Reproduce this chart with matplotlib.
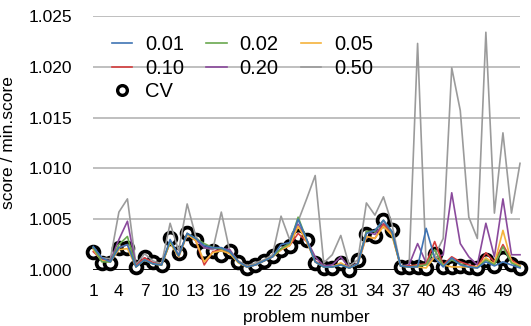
import numpy as np
import matplotlib
matplotlib.use('Agg')
import matplotlib.pyplot as plt

plt.rcParams['font.family'] = ['Liberation Sans', 'DejaVu Sans']

problems = np.arange(1, 52)

s001 = [1.0023, 1.0012, 1.0008, 1.0022, 1.0025, 1.0003, 1.0010, 1.0006, 1.0005, 1.0030,
        1.0014, 1.0036, 1.0031, 1.0024, 1.0022, 1.0022, 1.0018, 1.0008, 1.0003, 1.0005,
        1.0009, 1.0013, 1.0025, 1.0027, 1.0050, 1.0030, 1.0008, 1.0003, 1.0003, 1.0005,
        1.0002, 1.0006, 1.0036, 1.0039, 1.0049, 1.0038, 1.0004, 1.0003, 1.0003, 1.0041,
        1.0012, 1.0003, 1.0012, 1.0005, 1.0003, 1.0002, 1.0008, 1.0004, 1.0008, 1.0005,
        1.0002]
s002 = [1.0022, 1.0008, 1.0008, 1.0025, 1.0033, 1.0003, 1.0010, 1.0006, 1.0005, 1.0028,
        1.0014, 1.0036, 1.0031, 1.0026, 1.0022, 1.0021, 1.0018, 1.0008, 1.0003, 1.0005,
        1.0009, 1.0013, 1.0021, 1.0026, 1.0052, 1.0030, 1.0008, 1.0003, 1.0003, 1.0005,
        1.0002, 1.0006, 1.0038, 1.0038, 1.0049, 1.0037, 1.0004, 1.0003, 1.0004, 1.0005,
        1.0020, 1.0004, 1.0010, 1.0006, 1.0003, 1.0002, 1.0010, 1.0005, 1.0023, 1.0007,
        1.0003]
s005 = [1.0020, 1.0009, 1.0008, 1.0020, 1.0021, 1.0003, 1.0010, 1.0006, 1.0005, 1.0027,
        1.0013, 1.0035, 1.0029, 1.0008, 1.0017, 1.0019, 1.0016, 1.0007, 1.0003, 1.0005,
        1.0009, 1.0013, 1.0020, 1.0024, 1.0043, 1.0028, 1.0008, 1.0003, 1.0003, 1.0007,
        1.0002, 1.0006, 1.0033, 1.0031, 1.0043, 1.0034, 1.0004, 1.0003, 1.0003, 1.0002,
        1.0013, 1.0005, 1.0003, 1.0003, 1.0003, 1.0003, 1.0012, 1.0006, 1.0039, 1.0008,
        1.0004]
s010 = [1.0018, 1.0010, 1.0008, 1.0022, 1.0025, 1.0004, 1.0012, 1.0007, 1.0005, 1.0027,
        1.0013, 1.0035, 1.0029, 1.0005, 1.0018, 1.0020, 1.0017, 1.0008, 1.0003, 1.0005,
        1.0009, 1.0013, 1.0020, 1.0024, 1.0036, 1.0028, 1.0009, 1.0003, 1.0003, 1.0006,
        1.0002, 1.0006, 1.0033, 1.0031, 1.0045, 1.0035, 1.0004, 1.0004, 1.0005, 1.0006,
        1.0028, 1.0005, 1.0013, 1.0008, 1.0005, 1.0003, 1.0017, 1.0008, 1.0025, 1.0010,
        1.0004]
s020 = [1.0021, 1.0010, 1.0009, 1.0030, 1.0048, 1.0004, 1.0012, 1.0007, 1.0005, 1.0028,
        1.0015, 1.0036, 1.0030, 1.0022, 1.0021, 1.0021, 1.0020, 1.0008, 1.0003, 1.0005,
        1.0009, 1.0013, 1.0021, 1.0026, 1.0045, 1.0030, 1.0013, 1.0004, 1.0005, 1.0013,
        1.0002, 1.0007, 1.0038, 1.0035, 1.0046, 1.0037, 1.0004, 1.0005, 1.0026, 1.0007,
        1.0012, 1.0015, 1.0076, 1.0026, 1.0013, 1.0005, 1.0046, 1.0013, 1.0070, 1.0015,
        1.0015]
s050 = [1.0022, 1.0012, 1.0011, 1.0057, 1.0070, 1.0005, 1.0016, 1.0009, 1.0006, 1.0046,
        1.0019, 1.0065, 1.0033, 1.0022, 1.0020, 1.0057, 1.0018, 1.0009, 1.0004, 1.0007,
        1.0010, 1.0015, 1.0053, 1.0030, 1.0048, 1.0070, 1.0093, 1.0007, 1.0015, 1.0034,
        1.0004, 1.0010, 1.0066, 1.0054, 1.0072, 1.0045, 1.0004, 1.0003, 1.0223, 1.0005,
        1.0014, 1.0031, 1.0199, 1.0157, 1.0052, 1.0031, 1.0234, 1.0056, 1.0135, 1.0056,
        1.0105]
cv = [1.0018, 1.0007, 1.0007, 1.0022, 1.0022, 1.0003, 1.0013, 1.0008, 1.0005, 1.0031,
      1.0017, 1.0036, 1.0030, 1.0018, 1.0019, 1.0015, 1.0019, 1.0008, 1.0002, 1.0005,
      1.0009, 1.0014, 1.0020, 1.0024, 1.0033, 1.0030, 1.0007, 1.0002, 1.0002, 1.0007,
      1.0000, 1.0010, 1.0035, 1.0033, 1.0049, 1.0039, 1.0003, 1.0003, 1.0003, 1.0002,
      1.0016, 1.0003, 1.0003, 1.0004, 1.0003, 1.0002, 1.0010, 1.0004, 1.0012, 1.0006,
      1.0002]

labels = ['0.01', '0.02', '0.05', '0.10', '0.20', '0.50']
colors = ['#3f74b4', '#6aa84f', '#f5b33c', '#d63e3e', '#8a4a9c', '#9b9b9b']
series = [s001, s002, s005, s010, s020, s050]

fig = plt.figure(figsize=(5.31, 3.26), dpi=100)
ax = fig.add_axes([0.1757, 0.1718, 0.8036, 0.7791])

for y in [1.005, 1.010, 1.015, 1.020, 1.025]:
    ax.axhline(y, color='#b4b4b4', lw=1.2, zorder=0)
ax.axhline(1.0, color='black', lw=1.3, zorder=1)

cv_handle, = ax.plot(problems, cv, 'o', ms=8.5, mfc='white', mec='black', mew=2.7,
                     clip_on=False, zorder=2, label='CV')

handles = {}
for i in range(5, -1, -1):
    h, = ax.plot(problems, series[i], color=colors[i], lw=1.2, zorder=3,
                 label=labels[i], clip_on=False)
    handles[labels[i]] = h

ax.set_xlim(1, 51)
ax.set_ylim(1.0, 1.025)
ax.set_yticks([1.000, 1.005, 1.010, 1.015, 1.020, 1.025])
ax.set_yticklabels(['1.000', '1.005', '1.010', '1.015', '1.020', '1.025'])
ax.set_xticks(np.arange(1, 52, 3))
ax.tick_params(length=0, labelsize=12.5)
ax.tick_params(axis='y', pad=15)
ax.tick_params(axis='x', pad=10)
for sp in ax.spines.values():
    sp.set_visible(False)

ax.set_xlabel('problem number', fontsize=12.5, labelpad=8)
ax.set_ylabel('score / min.score', fontsize=12.5, labelpad=9)

order = [handles['0.01'], handles['0.10'], cv_handle,
         handles['0.02'], handles['0.20'],
         handles['0.05'], handles['0.50']]
leg = ax.legend(order, [h.get_label() for h in order], ncol=3, frameon=False,
                loc='upper left', bbox_to_anchor=(0.025, 0.955), fontsize=14.5,
                handlelength=1.0, handletextpad=0.65, columnspacing=1.1,
                labelspacing=0.22, borderaxespad=0)
for h in leg.legend_handles:
    if h.get_marker() == 'o':
        h.set_markersize(7)
        h.set_markeredgewidth(2.4)

fig.savefig('out.png', dpi=100)
